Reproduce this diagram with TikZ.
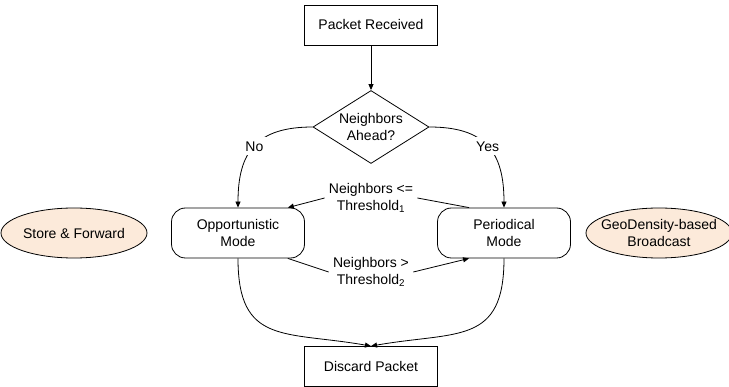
\documentclass[tikz,border=0pt]{standalone}
\usepackage{fontspec}
\setmainfont{Liberation Sans}
\usetikzlibrary{arrows.meta,positioning,shapes.geometric}
\definecolor{peach}{RGB}{252,234,218}
\begin{document}
\begin{tikzpicture}[x=1pt,y=1pt,line width=0.8pt,
>={Triangle[length=6pt,width=5pt]},
every node/.style={font=\fontsize{14}{17}\selectfont,align=center},
box/.style={draw,rectangle,minimum width=133pt,minimum height=40pt},
mode/.style={draw,rectangle,rounded corners=14pt,minimum width=133pt,minimum height=50pt},
cloud/.style={draw,ellipse,fill=peach,inner xsep=-14pt,inner ysep=0pt,minimum width=146pt,minimum height=50pt},
decide/.style={draw,diamond,shape aspect=1.6,inner sep=1pt,minimum width=116pt,minimum height=73pt},
lbl/.style={fill=white,inner sep=4pt}]
\useasboundingbox (0,0) rectangle (729,-387);
\node[box] (Recv) at (371,-25) {Packet Received};
\node[decide] (Ahead) at (371,-127) {Neighbors\\Ahead?};
\node[mode] (Opp) at (238,-233) {Opportunistic\\Mode};
\node[mode] (Per) at (504,-233) {Periodical\\Mode};
\node[cloud] (SF) at (74,-233) {Store \& Forward};
\node[cloud] (GD) at (659,-233) {GeoDensity-based\\Broadcast};
\node[box] (Disc) at (371,-366.5) {Discard Packet};
\node[lbl] (T1) at (371,-198) {Neighbors <=\\Threshold\textsubscript{1}};
\node[lbl] (T2) at (371,-272) {Neighbors >\\Threshold\textsubscript{2}};
\draw[->] (Recv) -- (Ahead);
\draw[->] (Ahead.west) to[out=180,in=90,looseness=1.3] node[lbl,pos=0.5]{No} (Opp.north);
\draw[->] (Ahead.east) to[out=0,in=90,looseness=1.3] node[lbl,pos=0.5]{Yes} (Per.north);
\draw (Per.144) -- (T1.east);
\draw[->] (T1.west) -- (Opp.27);
\draw (Opp.-27) -- (T2.west);
\draw[->] (T2.east) -- (Per.216);
\draw[->] (Opp.south) to[out=-90,in=170,looseness=1.4] (Disc.north);
\draw[->] (Per.south) to[out=-90,in=10,looseness=1.4] (Disc.north);
\end{tikzpicture}
\end{document}
